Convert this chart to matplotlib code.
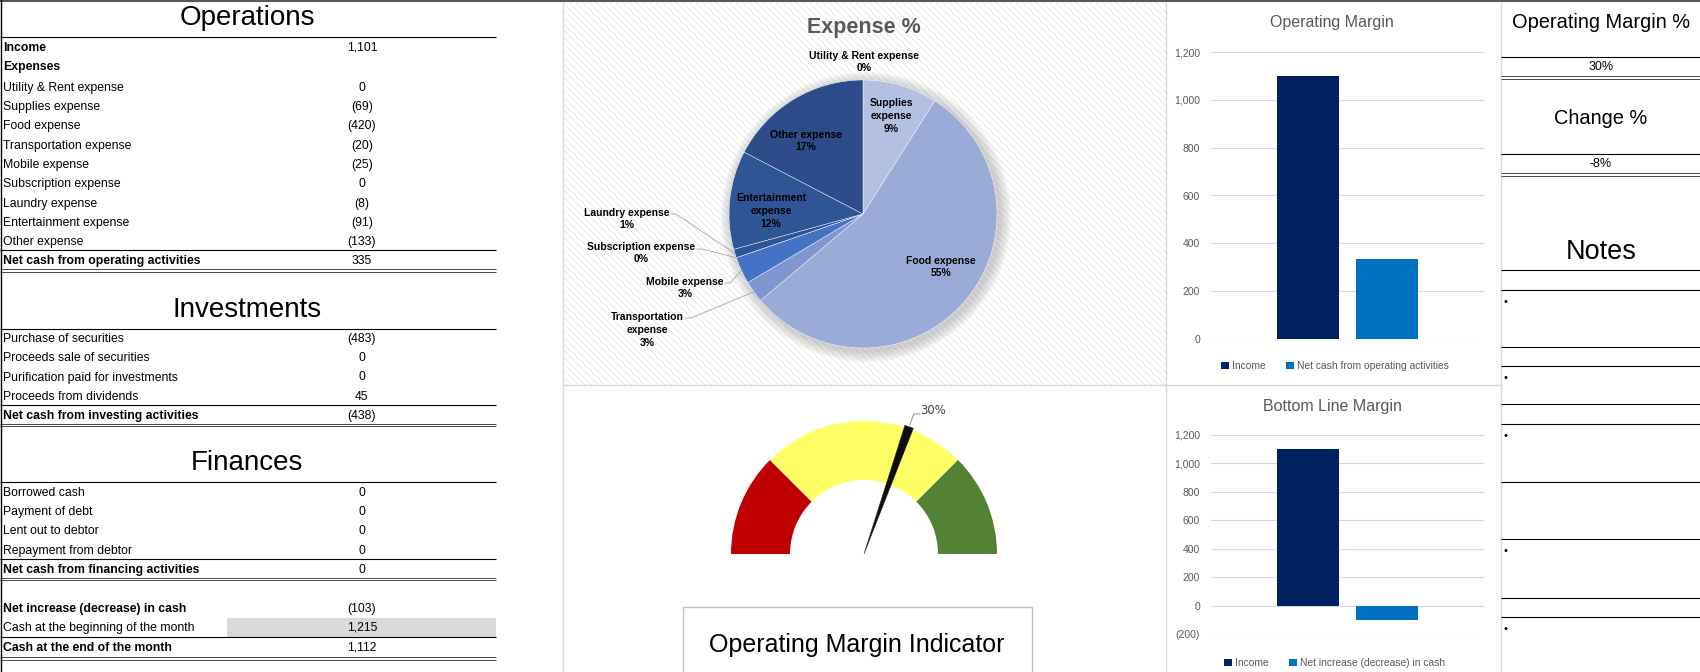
import matplotlib
matplotlib.use("Agg")
import matplotlib.pyplot as plt
from matplotlib import font_manager
from matplotlib.patches import Rectangle, Wedge, Circle
from matplotlib.ticker import FuncFormatter
import numpy as np

plt.rcParams['font.family'] = ['Liberation Sans', 'DejaVu Sans']
plt.rcParams['hatch.linewidth'] = 0.6

# use a condensed face for the sheet text if one is installed
_names = {f.name for f in font_manager.fontManager.ttflist}
HAS_NARROW = 'Liberation Sans Narrow' in _names
NARROW = ['Liberation Sans Narrow', 'Liberation Sans', 'DejaVu Sans'] if HAS_NARROW \
    else ['Liberation Sans', 'DejaVu Sans']
NS = 1 / 0.82 if HAS_NARROW else 1.0

W, H = 1700, 672

# ---------------- data ----------------
income = 1101
expense_labels = ['Utility & Rent expense', 'Supplies expense', 'Food expense',
                  'Transportation expense', 'Mobile expense', 'Subscription expense',
                  'Laundry expense', 'Entertainment expense', 'Other expense']
expense_values = [0, -69, -420, -20, -25, 0, -8, -91, -133]
net_operating = 335

invest_labels = ['Purchase of securities', 'Proceeds sale of securities',
                 'Purification paid for investments', 'Proceeds from dividends']
invest_values = [-483, 0, 0, 45]
net_investing = -438

finance_labels = ['Borrowed cash', 'Payment of debt', 'Lent out to debtor',
                  'Repayment from debtor']
finance_values = [0, 0, 0, 0]
net_financing = 0

net_change = -103
cash_begin = 1215
cash_end = 1112

# pie label text (wrapped like the sheet)
pie_names = ['Utility & Rent expense', 'Supplies\nexpense', 'Food expense',
             'Transportation\nexpense', 'Mobile expense', 'Subscription expense',
             'Laundry expense', 'Entertainment\nexpense', 'Other expense']
pie_colors = ['#B4C0E2', '#B4C0E2', '#9BABD7', '#7F96D0', '#4472C4',
              '#3A63B0', '#2F5597', '#2F5597', '#2E4C8A']

# gauge: red / yellow / green bands, scale 0 - 50 %
gauge_bands = [0.125, 0.25, 0.125]
gauge_colors = ['#C00000', '#FFFF66', '#548235']

op_margin = net_operating / income
change_pct = net_change / cash_begin


def fmt(v, pos=None):
    if v < 0:
        return "({:,.0f})".format(-v)
    return "{:,.0f}".format(v)


def rect(x0, y0, x1, y1):
    return [x0 / W, 1 - y1 / H, (x1 - x0) / W, (y1 - y0) / H]


fig = plt.figure(figsize=(W / 100, H / 100), dpi=100)
cv = fig.add_axes([0, 0, 1, 1])
cv.set_xlim(0, W)
cv.set_ylim(H, 0)
cv.axis('off')


def hl(y, x0=0, x1=496, color='black', lw=0.8):
    cv.plot([x0, x1], [y, y], color=color, lw=lw, solid_capstyle='butt')


def dbl(y, x0=0, x1=496):
    hl(y, x0, x1, lw=0.5)
    hl(y + 2.6, x0, x1, lw=0.5)


TS = 8.8 * NS
VX = 362


def row(label, value, y, bold=False):
    cv.text(3, y, label, fontsize=TS, va='center', ha='left', family=NARROW,
            fontweight='bold' if bold else 'normal')
    if value is not None:
        cv.text(VX, y, fmt(value), fontsize=TS, va='center', ha='center', family=NARROW)


def section(title, ty, y0, labels, values, total_label, total_value):
    cv.text(247, ty, title, fontsize=20, ha='center', va='center')
    hl(ty + 19)
    step = 19.25
    y = y0
    for lab, val in zip(labels, values):
        row(lab, val, y)
        y += step
    y -= step
    hl(y + 8)
    row(total_label, total_value, y + 19, bold=True)
    dbl(y + 27)


# ---------------- left table ----------------
cv.text(247, 18, 'Operations', fontsize=20, ha='center', va='center')
hl(37)
row('Income', income, 48, bold=True)
row('Expenses', None, 67, bold=True)
section_y = 88
for i, (lab, val) in enumerate(zip(expense_labels, expense_values)):
    row(lab, val, section_y + 19.25 * i)
hl(250)
row('Net cash from operating activities', net_operating, 261, bold=True)
dbl(269)

section('Investments', 310, 339, invest_labels, invest_values,
        'Net cash from investing activities', net_investing)
section('Finances', 463, 493, finance_labels, finance_values,
        'Net cash from financing activities', net_financing)

cv.add_patch(Rectangle((227, 618), 269, 19, facecolor='#D9D9D9', lw=0))
row('Net increase (decrease) in cash', net_change, 609, bold=True)
row('Cash at the beginning of the month', cash_begin, 628)
hl(637)
row('Cash at the end of the month', cash_end, 648, bold=True)
dbl(657)

# borders / panel separators
cv.plot([0, W], [1, 1], color='#595959', lw=1.5)
cv.plot([1, 1], [0, H], color='black', lw=1)
cv.add_patch(Rectangle((564, 3), 602, 382, facecolor='white', edgecolor='#E6E6E6',
                       hatch='\\\\\\\\\\', lw=0))
for x in (563, 1166, 1501):
    cv.plot([x, x], [3, H], color='#D9D9D9', lw=1)
cv.plot([563, 1501], [385, 385], color='#D9D9D9', lw=1)

# ---------------- right KPI column ----------------
cv.text(1601, 22, 'Operating Margin %', fontsize=14.4, ha='center', va='center')
cv.text(1601, 67, '{:.0%}'.format(op_margin), fontsize=9, ha='center', va='center')
cv.text(1601, 118, 'Change %', fontsize=14.4, ha='center', va='center')
cv.text(1601, 164, '{:.0%}'.format(change_pct), fontsize=9, ha='center', va='center')
cv.text(1601, 252, 'Notes', fontsize=19.5, ha='center', va='center')
for y in (57, 154, 270, 290, 347, 366, 404, 424, 482, 539, 598, 617):
    hl(y, 1501, W)
for y in (76, 173):
    dbl(y, 1501, W)
for y in (302, 378, 436, 551, 629):
    cv.text(1506, y, '\u2022', fontsize=8, ha='center', va='center')

# ---------------- pie: Expense % ----------------
pa = fig.add_axes(rect(565, 3, 1165, 385))
pa.set_facecolor('none')
pc = (863, H - 214)
pr = 134
for i in range(14):
    pa.add_patch(Circle((pc[0] + 3, pc[1] - 3), pr + 1 + i * 0.8, color='#7F7F7F',
                        alpha=0.028, lw=0, zorder=0))
amounts = [-v for v in expense_values]
total_exp = sum(amounts)
wedges, _ = pa.pie(amounts, colors=pie_colors, startangle=90, counterclock=False,
                   center=pc, radius=pr, frame=True,
                   wedgeprops=dict(edgecolor='white', linewidth=0.3))
pa.set_xlim(565, 1165)
pa.set_ylim(H - 385, H - 3)
pa.set_aspect('auto')
pa.axis('off')
pa.text(864, H - 27, 'Expense %', fontsize=15.5, fontweight='bold', color='#595959',
        ha='center', va='center')

label_pos = [(864, 62), (891, 116), (941, 267), (647, 330), (685, 288),
             (641, 253), (627, 219), (771, 211), (806, 141)]
leader_from = {3: (686, 318), 4: (725, 283), 5: (697, 249), 6: (671, 214)}
for i, (name, amt) in enumerate(zip(pie_names, amounts)):
    lx, ly = label_pos[i]
    pa.text(lx, H - ly, '{}\n{:.0%}'.format(name, amt / total_exp), fontsize=7.5 * NS,
            fontweight='bold', ha='center', va='center', linespacing=1.35,
            family=NARROW)
    if i in leader_from:
        w = wedges[i]
        th = np.radians((w.theta1 + w.theta2) / 2)
        ex = pc[0] + pr * np.cos(th)
        ey = pc[1] + pr * np.sin(th)
        fx, fy = leader_from[i]
        pa.plot([fx, fx + 5, ex], [H - fy, H - fy, ey], color='#A6A6A6', lw=0.6)

# ---------------- gauge ----------------
ga = fig.add_axes(rect(565, 386, 1165, 672))
ga.set_facecolor('none')
gc = (864, H - 554)
ga.pie(gauge_bands + [sum(gauge_bands)], colors=gauge_colors + ['none'],
       startangle=180, counterclock=False, center=gc, radius=133, frame=True,
       wedgeprops=dict(width=59, linewidth=0))
ga.set_xlim(565, 1165)
ga.set_ylim(0, 286)
ga.set_aspect('auto')
ga.axis('off')
ang = 180 * (1 - op_margin / sum(gauge_bands))
ga.add_patch(Wedge(gc, 135, ang - 1.9, ang + 1.9, facecolor='#0D0D0D',
                   edgecolor='#262626', lw=0.4))
tx = gc[0] + 137 * np.cos(np.radians(ang))
ty = gc[1] + 137 * np.sin(np.radians(ang))
ga.plot([tx, tx + 4, tx + 10], [ty, ty + 11, ty + 11], color='#7F7F7F', lw=0.6)
ga.text(tx + 10, ty + 14, '{:.0%}'.format(op_margin), fontsize=8.4, color='#404040',
        family='DejaVu Sans', ha='left', va='center')

cv.add_patch(Rectangle((683, 607), 349, 80, facecolor='white', edgecolor='#BFBFBF', lw=1))
cv.text(857, 645, 'Operating Margin Indicator', fontsize=18, ha='center', va='center')


# ---------------- bar charts ----------------
def bar_chart(box, ylim, ticks, second_label, second_value, title, title_y, leg_y):
    ax = fig.add_axes(rect(*box))
    ax.set_facecolor('none')
    ax.bar(-0.143, income, 0.227, color='#002060', label='Income', zorder=3)
    ax.bar(0.143, second_value, 0.227, color='#0070C0', label=second_label, zorder=3)
    ax.set_xlim(-0.5, 0.5)
    ax.set_ylim(*ylim)
    ax.set_yticks(ticks)
    ax.yaxis.set_major_formatter(FuncFormatter(fmt))
    ax.set_xticks([])
    ax.yaxis.grid(True, color='#D9D9D9', lw=0.8)
    ax.set_axisbelow(True)
    for s in ax.spines.values():
        s.set_visible(False)
    ax.tick_params(axis='y', length=0, pad=8, labelsize=7.5 * NS, labelcolor='#595959')
    for lab in ax.get_yticklabels():
        lab.set_family(NARROW)
    ax.legend(loc='center', bbox_to_anchor=(0.454, leg_y), ncol=2, frameon=False,
              prop=dict(family=NARROW, size=7.4 * NS), handlelength=0.75,
              handleheight=0.75, handletextpad=0.3, columnspacing=2.0,
              labelcolor='#595959', borderaxespad=0)
    cv.text(1332, title_y, title, fontsize=11.5, color='#595959', ha='center', va='center')
    return ax


bar_chart((1211, 52, 1484, 339), (0, 1200), range(0, 1201, 200),
          'Net cash from operating activities', net_operating,
          'Operating Margin', 23, -0.094)
bar_chart((1211, 435, 1484, 634), (-200, 1200), range(-200, 1201, 200),
          'Net increase (decrease) in cash', net_change,
          'Bottom Line Margin', 407, -0.146)

fig.savefig('out.png', dpi=100)
